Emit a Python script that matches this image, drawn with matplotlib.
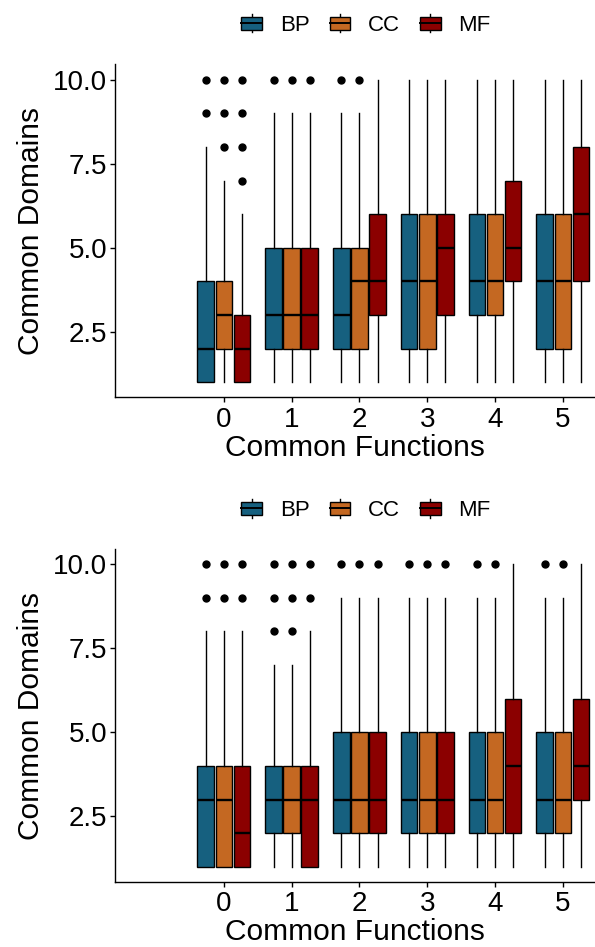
import matplotlib
matplotlib.use('Agg')
import matplotlib.pyplot as plt
from matplotlib.patches import Rectangle
from matplotlib.lines import Line2D
from matplotlib.legend_handler import HandlerBase

plt.rcParams['font.family'] = ['Liberation Sans', 'DejaVu Sans']

groups = [0, 1, 2, 3, 4, 5]
ontologies = ['BP', 'CC', 'MF']
colors = {'BP': '#16607f', 'CC': '#c46822', 'MF': '#8b0000'}

# (whislo, q1, median, q3, whishi) per group
top_stats = {
    'BP': [(1, 1, 2, 4, 8), (1, 2, 3, 5, 9), (1, 2, 3, 5, 9),
           (1, 2, 4, 6, 10), (1, 3, 4, 6, 10), (1, 2, 4, 6, 10)],
    'CC': [(1, 2, 3, 4, 7), (1, 2, 3, 5, 9), (1, 2, 4, 5, 9),
           (1, 2, 4, 6, 10), (1, 3, 4, 6, 10), (1, 2, 4, 6, 10)],
    'MF': [(1, 1, 2, 3, 6), (1, 2, 3, 5, 9), (1, 3, 4, 6, 10),
           (1, 3, 5, 6, 10), (1, 4, 5, 7, 10), (1, 4, 6, 8, 10)],
}
top_fliers = {
    'BP': [[9, 10], [10], [10], [], [], []],
    'CC': [[8, 9, 10], [10], [10], [], [], []],
    'MF': [[7, 8, 9, 10], [10], [], [], [], []],
}
bottom_stats = {
    'BP': [(1, 1, 3, 4, 8), (1, 2, 3, 4, 7), (1, 2, 3, 5, 9),
           (1, 2, 3, 5, 9), (1, 2, 3, 5, 9), (1, 2, 3, 5, 9)],
    'CC': [(1, 1, 3, 4, 8), (1, 2, 3, 4, 7), (1, 2, 3, 5, 9),
           (1, 2, 3, 5, 9), (1, 2, 3, 5, 9), (1, 2, 3, 5, 9)],
    'MF': [(1, 1, 2, 4, 8), (1, 1, 3, 4, 8), (1, 2, 3, 5, 9),
           (1, 2, 3, 5, 9), (1, 2, 4, 6, 10), (1, 3, 4, 6, 10)],
}
bottom_fliers = {
    'BP': [[9, 10], [8, 9, 10], [10], [10], [10], [10]],
    'CC': [[9, 10], [8, 9, 10], [10], [10], [10], [10]],
    'MF': [[9, 10], [9, 10], [10], [10], [], []],
}

yticks = [2.5, 5.0, 7.5, 10.0]
ytick_labels = ['2.5', '5.0', '7.5', '10.0']


class BoxKey(HandlerBase):
    def create_artists(self, legend, orig_handle, xdescent, ydescent,
                       width, height, fontsize, trans):
        x0, y0 = -xdescent, -ydescent
        bh = height * 0.72
        by = y0 + (height - bh) / 2
        xm = x0 + width / 2
        lo = Line2D([xm, xm], [y0, by], color='black', lw=1.0,
                    transform=trans)
        hi = Line2D([xm, xm], [by + bh, y0 + height], color='black',
                    lw=1.0, transform=trans)
        box = Rectangle((x0, by), width, bh, facecolor=orig_handle.get_facecolor(),
                        edgecolor='black', lw=1.0, transform=trans)
        med = Line2D([x0, x0 + width], [by + bh / 2, by + bh / 2],
                     color='black', lw=1.4, transform=trans)
        return [lo, hi, box, med]


def draw_panel(ax, stats, fliers):
    offsets = [-0.267, 0.0, 0.267]
    for k, ont in enumerate(ontologies):
        bxp_stats = []
        for g, (wl, q1, md, q3, wh) in zip(groups, stats[ont]):
            bxp_stats.append(dict(whislo=wl, q1=q1, med=md, q3=q3, whishi=wh,
                                  fliers=fliers[ont][g]))
        pos = [g + offsets[k] for g in groups]
        ax.bxp(bxp_stats, positions=pos, widths=0.245, patch_artist=True,
               showcaps=False,
               boxprops=dict(facecolor=colors[ont], edgecolor='black', lw=1.0),
               medianprops=dict(color='black', lw=1.7),
               whiskerprops=dict(color='black', lw=1.0),
               flierprops=dict(marker='o', markerfacecolor='black',
                               markeredgecolor='black', markersize=5))
    ax.set_xlim(-1.605, 5.474)
    ax.set_ylim(0.55, 10.45)
    ax.set_xticks(groups)
    ax.set_xticklabels([str(g) for g in groups])
    ax.set_yticks(yticks)
    ax.set_yticklabels(ytick_labels)
    for side in ['top', 'right']:
        ax.spines[side].set_visible(False)
    for side in ['left', 'bottom']:
        ax.spines[side].set_linewidth(1.0)
    ax.tick_params(length=3.5, width=1.0, labelsize=20, colors='black',
                   pad=2)
    ax.tick_params(axis='x', pad=3)
    ax.set_xlabel('Common Functions', fontsize=21.5, labelpad=1)
    ax.set_ylabel('Common Domains', fontsize=21.5, labelpad=6)


fig = plt.figure(figsize=(5.95, 9.47), dpi=100)
ax1 = fig.add_axes([115 / 595, 1 - 397.5 / 947, 1 - 115 / 595, 333 / 947])
ax2 = fig.add_axes([115 / 595, 1 - 882 / 947, 1 - 115 / 595, 333 / 947])
draw_panel(ax1, top_stats, top_fliers)
draw_panel(ax2, bottom_stats, bottom_fliers)

handles = [Rectangle((0, 0), 1, 1, facecolor=colors[o]) for o in ontologies]
for yc in [25, 510]:
    fig.legend(handles, ontologies, loc='center',
               bbox_to_anchor=(366 / 595, 1 - yc / 947), ncol=3, frameon=False,
               fontsize=16, handler_map={Rectangle: BoxKey()},
               handlelength=0.93, handleheight=0.9, handletextpad=0.8,
               columnspacing=0.9, borderpad=0, borderaxespad=0)

fig.savefig('out.png', dpi=100)
